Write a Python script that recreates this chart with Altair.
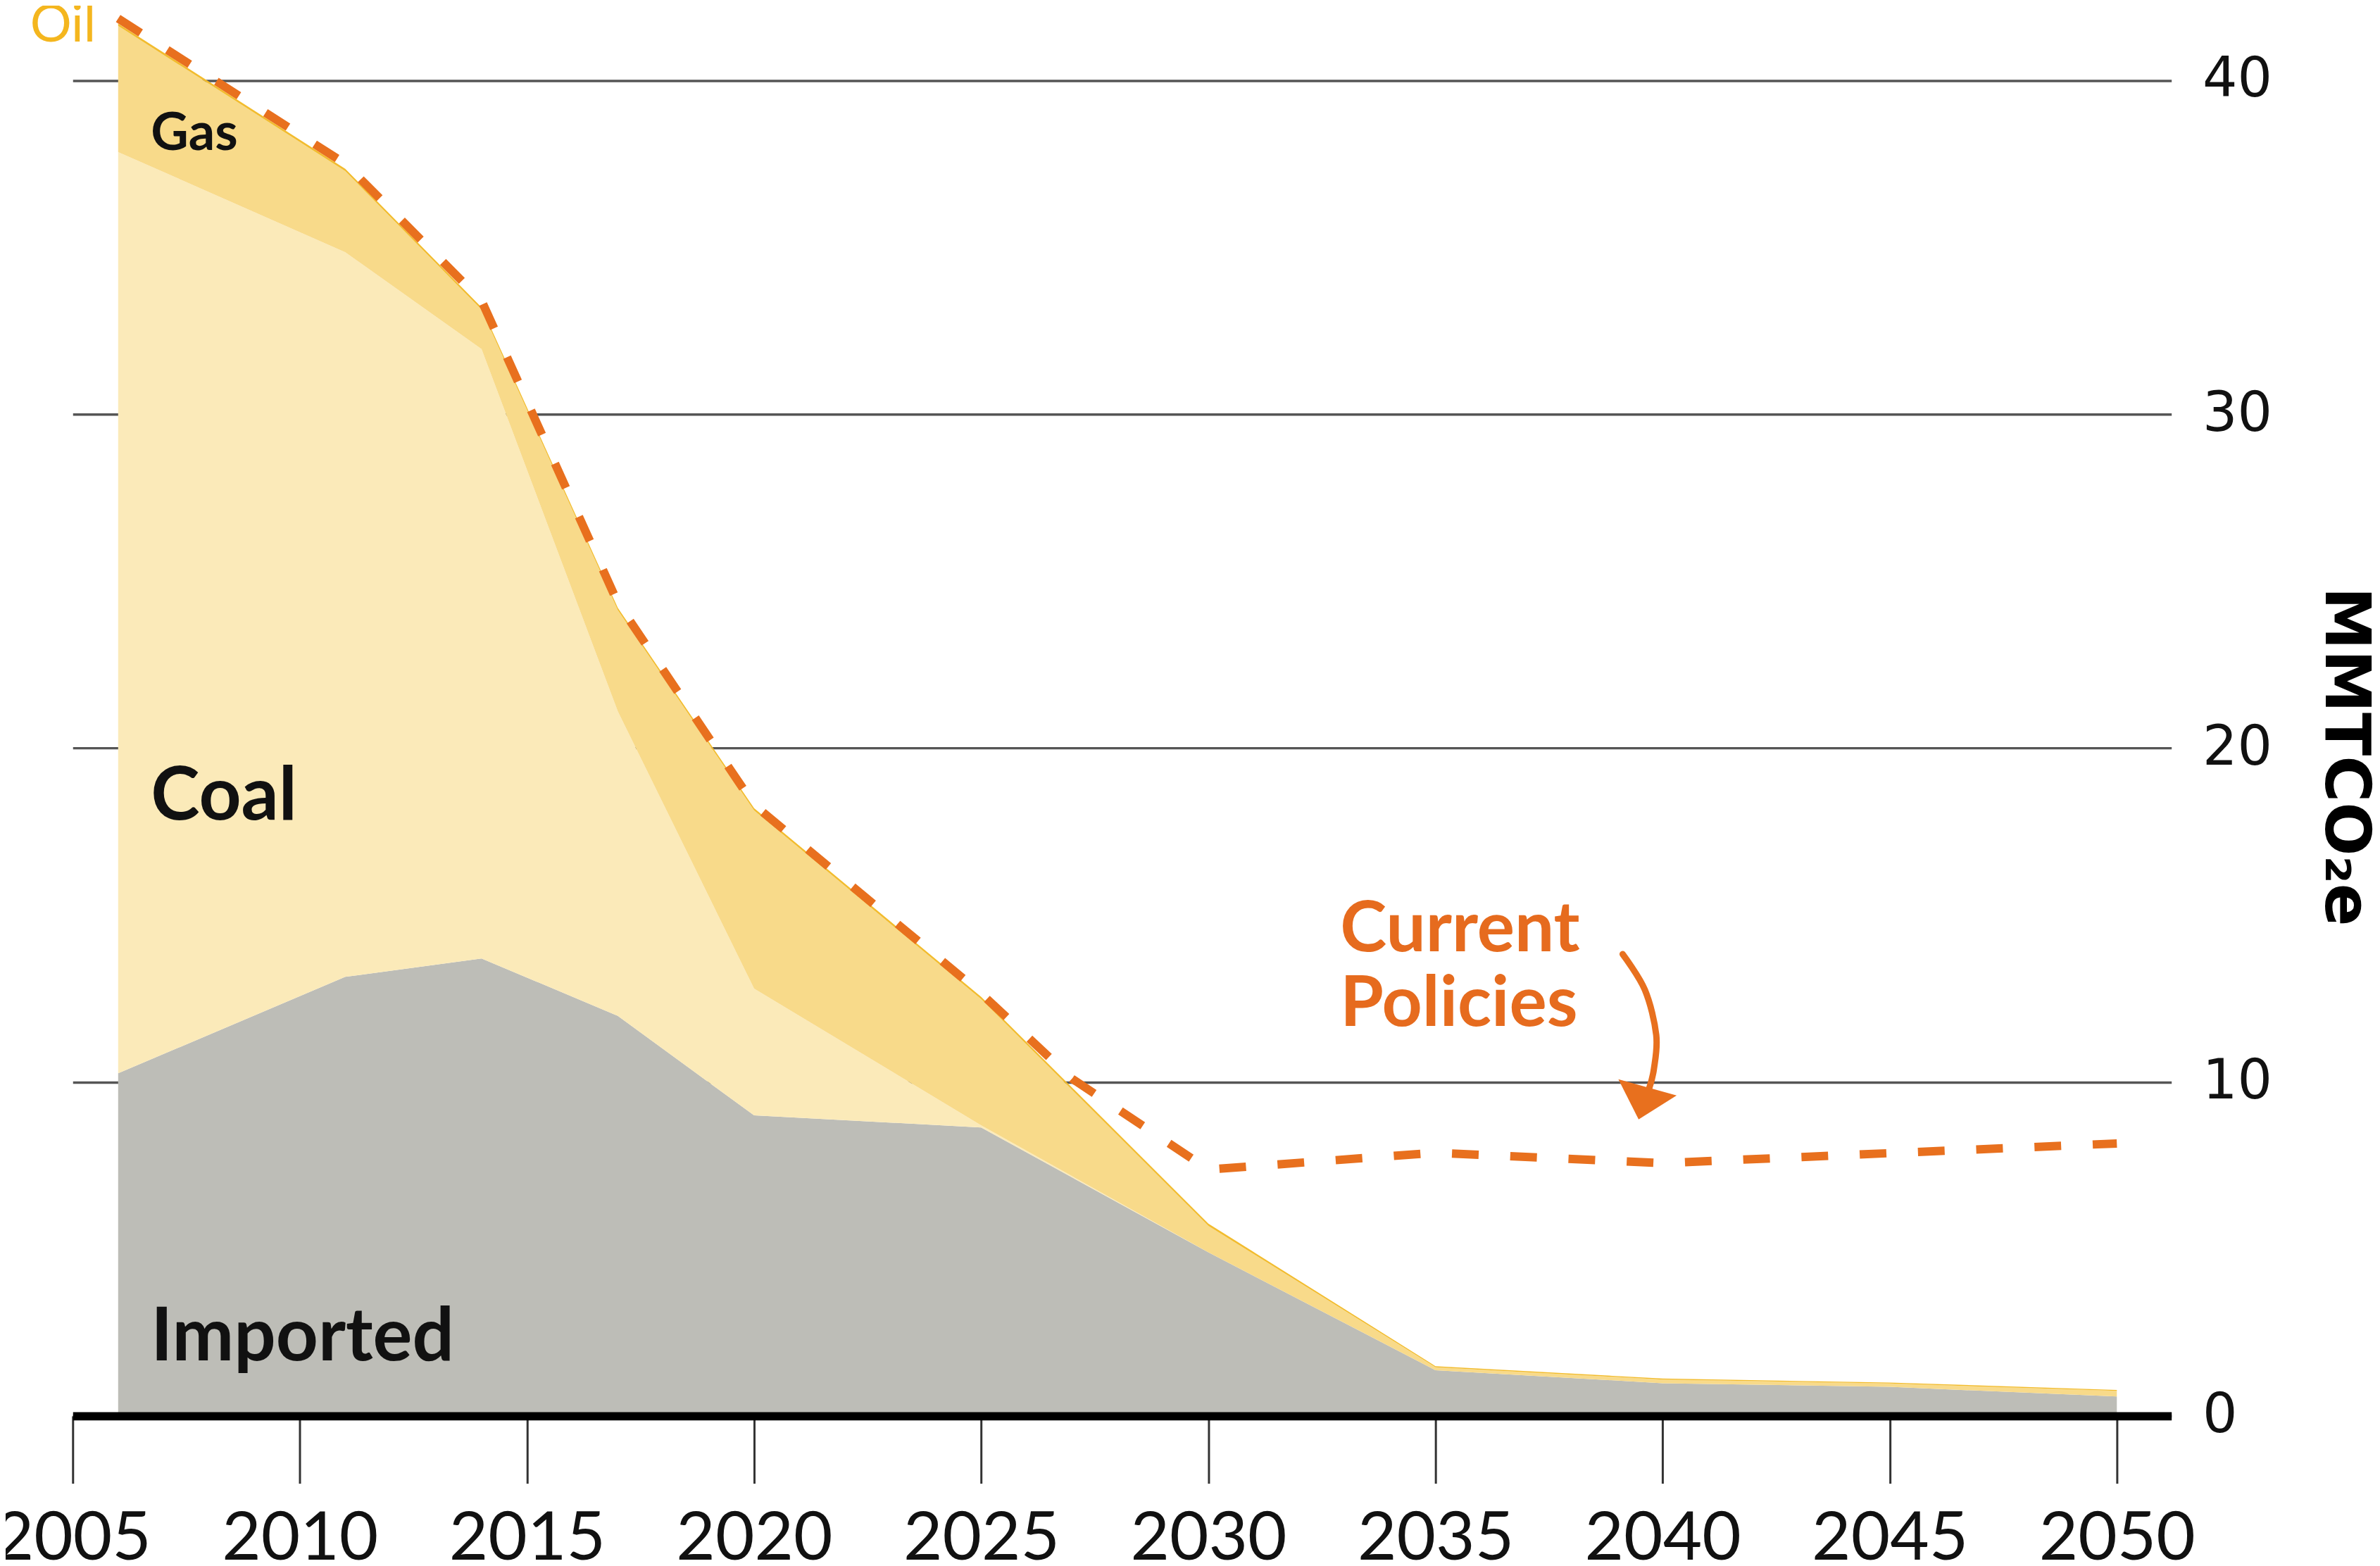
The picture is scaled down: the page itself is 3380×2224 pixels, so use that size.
import altair as alt
import pandas as pd

# ---- data ----
years = [2006, 2011, 2014, 2017, 2020, 2025, 2030, 2035, 2040, 2045, 2050]
imported = [10.26, 13.15, 13.7, 11.98, 9.0, 8.64, 4.9, 1.37, 0.98, 0.87, 0.58]
coal = [27.59, 21.7, 18.25, 9.12, 3.8, 0.06, 0.0, 0.0, 0.0, 0.0, 0.0]
gas = [3.78, 2.43, 1.18, 3.03, 5.33, 3.78, 0.79, 0.09, 0.11, 0.10, 0.17]
oil = [0.07, 0.07, 0.07, 0.07, 0.07, 0.07, 0.07, 0.03, 0.03, 0.03, 0.03]

policy_years = [2006, 2011, 2014, 2017, 2020, 2025, 2027, 2030, 2035, 2040, 2045, 2050]
policy_values = [41.85, 37.5, 33.4, 24.35, 18.3, 12.65, 10.1, 7.38, 7.88, 7.57, 7.87, 8.16]

sources = ["Imported", "Coal", "Gas", "Oil"]
source_colors = ["#BDBDB7", "#FBEAB9", "#F8DA8A", "#F2BC2E"]

x_ticks = [2005, 2010, 2015, 2020, 2025, 2030, 2035, 2040, 2045, 2050]
y_ticks = [0, 10, 20, 30, 40]

# annotation texts
series_labels = ["Coal", "Imported"]
series_label_x = [2006.72, 2006.72]
series_label_y = [17.86, 1.67]
gas_label = ["Gas"]
gas_label_x = [2006.72]
gas_label_y = [37.91]
oil_label = ["Oil"]
oil_label_x = [2004.06]
oil_label_y = [41.15]
policy_label = [["Current", "Policies"]]
policy_label_x = [2032.9]
policy_label_y = [13.91]

arrow_x = [2039.12, 2039.61, 2039.86, 2039.81, 2039.70]
arrow_y = [13.83, 12.76, 11.41, 10.40, 9.79]
head_x = [2039.57]
head_y = [9.36]

# ---- tables ----
series = [imported, coal, gas, oil]
rows = []
for i, yr in enumerate(years):
    for k, name in enumerate(sources):
        rows.append({"year": yr, "source": name, "value": series[k][i], "ord": k})
df_area = pd.DataFrame(rows)
df_policy = pd.DataFrame({"year": policy_years, "value": policy_values})

X_DOMAIN = [2005, 2051.2]
Y_DOMAIN = [0, 42.18]
ORANGE = "#E8701E"

x_scale = alt.Scale(domain=X_DOMAIN, nice=False, zero=False)
y_scale = alt.Scale(domain=Y_DOMAIN, nice=False, zero=True)

x_axis = alt.Axis(
    values=x_ticks, format="d", title=None, grid=False,
    domain=True, domainColor="#000000", domainWidth=12,
    ticks=True, tickColor="#333333", tickWidth=3, tickSize=96,
    labelFont="Lato", labelFontSize=96, labelColor="#111111",
    labelPadding=32, labelFlush=False, labelOverlap=False, labelLimit=0, zindex=1,
)
y_axis = alt.Axis(
    orient="right", values=y_ticks, title="MMTCO₂e",
    grid=True, gridColor="#555555", gridWidth=3.5,
    domain=False, ticks=False,
    labelFont="DejaVu Sans", labelFontSize=78, labelColor="#111111",
    labelPadding=44, labelLimit=0,
    titleFont="DejaVu Sans", titleFontSize=90, titleFontWeight="bold",
    titleColor="#000000", titleAngle=90, titleX=246, titleY=1066,
    titleAlign="center", titleBaseline="middle", zindex=0,
)


def X(field):
    return alt.X(field, type="quantitative", scale=x_scale, axis=x_axis)


def Y(field, **kw):
    return alt.Y(field, type="quantitative", scale=y_scale, axis=y_axis, **kw)


area = alt.Chart(df_area).mark_area(interpolate="linear").encode(
    x=X("year"),
    y=Y("value", stack="zero"),
    color=alt.Color("source:N", scale=alt.Scale(domain=sources, range=source_colors), legend=None),
    order=alt.Order("ord:Q", sort="ascending"),
)

policy = alt.Chart(df_policy).mark_line(
    color=ORANGE, strokeWidth=12, strokeDash=[38, 45], strokeJoin="round"
).encode(x=X("year"), y=Y("value"))

df_lab = pd.DataFrame({"t": series_labels, "x": series_label_x, "y": series_label_y})
lab = alt.Chart(df_lab).mark_text(
    font="Lato", fontSize=105, fontWeight="bold", color="#111111", align="left", baseline="alphabetic"
).encode(x=X("x"), y=Y("y"), text="t:N")

df_gas = pd.DataFrame({"t": gas_label, "x": gas_label_x, "y": gas_label_y})
gas_t = alt.Chart(df_gas).mark_text(
    font="Lato", fontSize=74, fontWeight="bold", color="#111111", align="left", baseline="alphabetic"
).encode(x=X("x"), y=Y("y"), text="t:N")

df_oil = pd.DataFrame({"t": oil_label, "x": oil_label_x, "y": oil_label_y})
oil_t = alt.Chart(df_oil).mark_text(
    font="Lato", fontSize=74, fontWeight="normal", color="#F4B61E", align="left", baseline="alphabetic"
).encode(x=X("x"), y=Y("y"), text="t:N")

df_pl = pd.DataFrame({"t": policy_label, "x": policy_label_x, "y": policy_label_y})
pol_t = alt.Chart(df_pl).mark_text(
    font="Lato", fontSize=100, fontWeight="bold", color="#E66B1E", align="left",
    baseline="alphabetic", lineHeight=106,
).encode(x=X("x"), y=Y("y"), text="t")

df_arrow = pd.DataFrame({"x": arrow_x, "y": arrow_y, "i": list(range(len(arrow_x)))})
arrow = alt.Chart(df_arrow).mark_line(
    color=ORANGE, strokeWidth=9, interpolate="cardinal", strokeCap="round"
).encode(x=X("x"), y=Y("y"), order="i:Q")

df_head = pd.DataFrame({"x": head_x, "y": head_y})
head = alt.Chart(df_head).mark_point(
    shape="M-1,-0.55L1,-0.55L0,0.55Z", size=7400, angle=15.5,
    filled=True, color=ORANGE, opacity=1, strokeWidth=0,
).encode(x=X("x"), y=Y("y"))

chart = alt.layer(area, policy, lab, gas_t, oil_t, pol_t, arrow, head).properties(
    width=2987.5,
    height=2005,
    autosize=alt.AutoSizeParams(type="none"),
    padding={"left": 95.5, "top": 0, "right": 289, "bottom": 211},
    background="white",
).configure_view(stroke=None)

chart.save("out.html", embed_options={"renderer": "svg", "actions": False})
